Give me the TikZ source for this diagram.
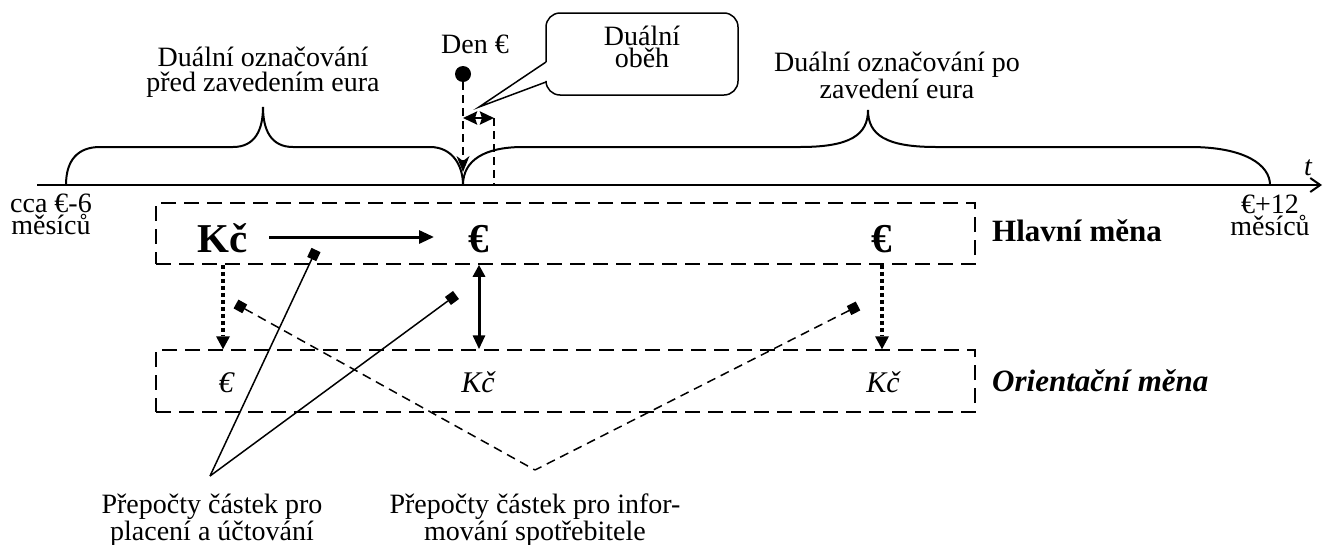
\documentclass[tikz,border=0pt]{standalone}
\usepackage{fontspec}
\setmainfont{Liberation Serif}
\usetikzlibrary{arrows.meta}
\newcommand{\lblfont}{\fontsize{28}{24.5}\selectfont}
\newcommand{\bigfont}{\fontsize{41}{41}\selectfont\bfseries}
\newcommand{\smfont}{\fontsize{30}{30}\selectfont\itshape}
\newcommand{\rowfont}{\fontsize{31}{31}\selectfont\bfseries}
\tikzset{
  lbl/.style={font=\lblfont, align=center, inner sep=0pt, anchor=base},
  dbox/.style={draw, line width=1.5pt, dash pattern=on 15pt off 8pt, inner sep=0pt},
  vdash/.style={line width=1.5pt, dash pattern=on 8pt off 5pt},
  brace/.style={line width=2pt},
  dotarrow/.style={line width=4pt, dash pattern=on 4pt off 3pt, -{Triangle[length=13pt,width=14pt,line width=0pt]}},
  thickarrow/.style={line width=3pt},
  marker/.style={line width=1.5pt, {Square[length=10pt,width=10pt,line width=0pt]}-},
}
\begin{document}
\begin{tikzpicture}[x=1pt,y=-1pt]
\useasboundingbox (0,0) rectangle (1324,544);

% time axis
\coordinate (axL) at (37,185);
\coordinate (axR) at (1322,185);
\draw[line width=2pt, -{Straight Barb[length=10pt,width=14pt]}] (axL) -- (axR);
\node[font=\lblfont\itshape, inner sep=0pt, anchor=base] (t) at (1308,175) {t};

% braces
\draw[brace] (66,185) .. controls (66,160) and (78,147) .. (100,147) -- (233,147)
  .. controls (255,147) and (263,130) .. (263,107)
  .. controls (263,130) and (271,147) .. (293,147) -- (430,147)
  .. controls (452,147) and (463,165) .. (463,185);
\draw[brace] (463,185) .. controls (463,160) and (485,147) .. (523,147) -- (800,147)
  .. controls (850,147) and (868,135) .. (868,110)
  .. controls (868,135) and (886,147) .. (936,147) -- (1190,147)
  .. controls (1245,147) and (1270,165) .. (1270,185);

\node[lbl] (before) at (263,91) {Duální označování\\před zavedením eura};
\node[lbl] (after) at (897,98) {Duální označování po\\zavedení eura};
\node[lbl, font=\fontsize{28}{22}\selectfont] (start) at (51,234) {cca €-6\\měsíců};
\node[lbl, font=\fontsize{28}{22}\selectfont] (end) at (1270,235) {€+12\\měsíců};

% Den euro
\node[lbl] (den) at (475,53) {Den €};
\node[circle, fill, minimum size=16pt, inner sep=0pt] (dot) at (463,74) {};
\coordinate (denend) at (463,172);
\draw[vdash, -{Stealth[length=16pt,width=13pt,inset=5pt,line width=0pt]}] (dot.south) -- (denend);
\coordinate (c1) at (463,118);
\coordinate (c2) at (494,118);
\coordinate (c2b) at (494,185);
\draw[vdash] (c2) -- (c2b);
\draw[line width=2.5pt, {Stealth[length=14pt,width=13pt,inset=2pt]}-{Stealth[length=14pt,width=13pt,inset=2pt]}] (c1) -- (c2);

% callout
\coordinate (ctip) at (479,107);
\draw[line width=1.5pt, rounded corners=14pt] (546,62) -- (546,13) -- (738,13) -- (738,95) -- (546,95) -- (546,82);
\draw[line width=1.5pt] (546,62) -- (ctip) -- (546,82);
\node[lbl, font=\fontsize{28}{22}\selectfont] (ctext) at (642,67) {Duální\\oběh};

% boxes
\node[dbox, minimum width=819pt, minimum height=61pt] (box1) at (565.5,233.5) {};
\node[dbox, minimum width=819pt, minimum height=62pt] (box2) at (565.5,381) {};
\node[font=\rowfont, inner sep=0pt, anchor=base west] (hl) at (992,241) {Hlavní měna};
\node[font=\rowfont\itshape, inner sep=0pt, anchor=base west] (orl) at (992,391) {Orientační měna};

% main currency row
\node[font=\bigfont, inner sep=0pt, anchor=base] (kc1) at (223,252) {Kč};
\node[font=\bigfont, inner sep=0pt, anchor=base] (eu1) at (479,252) {€};
\node[font=\bigfont, inner sep=0pt, anchor=base] (eu2) at (882,252) {€};
% orientation row
\node[font=\smfont, inner sep=0pt, anchor=base] (eu3) at (226,392) {€};
\node[font=\smfont, inner sep=0pt, anchor=base] (kc2) at (478,392) {Kč};
\node[font=\smfont, inner sep=0pt, anchor=base] (kc3) at (883,392) {Kč};

\coordinate (harrS) at (269,237);
\coordinate (harrE) at (434,237);
\draw[thickarrow, -{Triangle[length=15pt,width=13pt]}] (harrS) -- (harrE);

\draw[dotarrow] (box1.south -| kc1) -- (box2.north -| kc1);
\draw[dotarrow] (box1.south -| eu2) -- (box2.north -| eu2);
\draw[thickarrow, {Triangle[length=12pt,width=12pt]}-{Triangle[length=14pt,width=12pt]}] (box1.south -| eu1) -- (box2.north -| eu1);

% conversion markers
\coordinate (sq1) at (316,250);
\coordinate (sq2) at (456,295);
\coordinate (ap1) at (210,476);
\coordinate (sq3) at (236,304);
\coordinate (sq4) at (858,306);
\coordinate (ap2) at (535,470);
\draw[marker] (sq1) -- (ap1);
\draw[marker] (sq2) -- (ap1);
\draw[marker, dash pattern=on 9pt off 6pt] (sq3) -- (ap2);
\draw[marker, dash pattern=on 9pt off 6pt] (sq4) -- (ap2);

\node[lbl] (lab1) at (212,540) {Přepočty částek pro\\placení a účtování};
\node[lbl] (lab2) at (535,540) {Přepočty částek pro infor-\\mování spotřebitele};
\end{tikzpicture}
\end{document}
